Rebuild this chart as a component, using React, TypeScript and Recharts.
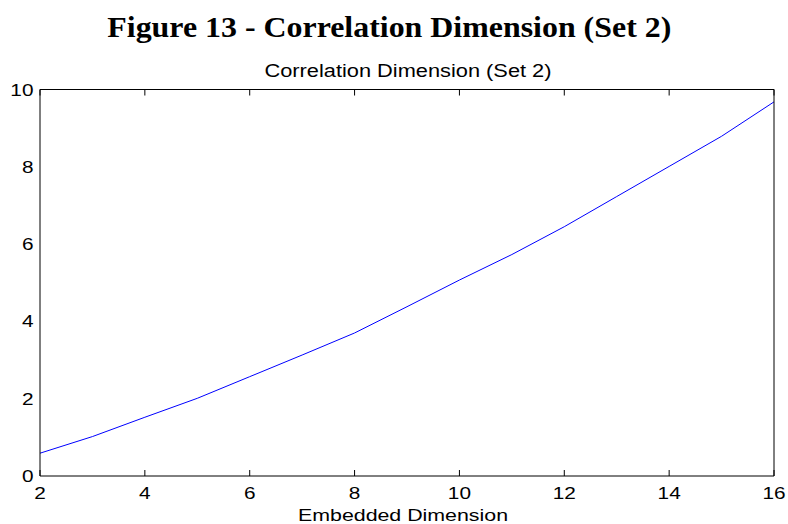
import React from "react";
import { LineChart, Line, XAxis, YAxis } from "recharts";

const embeddedDims = [2, 3, 4, 5, 6, 7, 8, 9, 10, 11, 12, 13, 14, 15, 16];
const corrDims = [0.59, 1.02, 1.52, 2.01, 2.57, 3.13, 3.7, 4.38, 5.07, 5.73, 6.45, 7.23, 8.01, 8.79, 9.68];
const xTicks = [2, 4, 6, 8, 10, 12, 14, 16];
const yTicks = [0, 2, 4, 6, 8, 10];

const figureTitle = "Figure 13 - Correlation Dimension (Set 2)";
const plotTitle = "Correlation Dimension (Set 2)";
const xLabel = "Embedded Dimension";

const data = embeddedDims.map((x, i) => ({ x, y: corrDims[i] }));

const SANS = "'Liberation Sans', Arial, Helvetica, sans-serif";

const XTick = (props: any) => {
  const { x, y, payload } = props;
  return (
    <text
      transform={`translate(${x},${y + 23}) scale(1.3,1)`}
      textAnchor="middle"
      fontSize={16}
      fontFamily={SANS}
      fill="#000"
    >
      {payload.value}
    </text>
  );
};

const YTick = (props: any) => {
  const { x, y, payload } = props;
  return (
    <text
      transform={`translate(${x - 6.5},${y + 6}) scale(1.3,1)`}
      textAnchor="end"
      fontSize={16}
      fontFamily={SANS}
      fill="#000"
    >
      {payload.value}
    </text>
  );
};

const NoTick = () => <g />;

export default function App() {
  return (
    <div style={{ position: "absolute", left: 0, top: 0, width: 788, height: 524, background: "#fff" }}>
      <svg width={788} height={524} style={{ position: "absolute", left: 0, top: 0 }}>
        <text
          x={107.3}
          y={36.7}
          fontSize={29}
          fontWeight="bold"
          fontFamily="'Liberation Serif', 'Times New Roman', serif"
          textLength={564}
          lengthAdjust="spacingAndGlyphs"
          fill="#000"
        >
          {figureTitle}
        </text>
        <text
          x={408}
          y={77.3}
          fontSize={17.5}
          fontFamily={SANS}
          textAnchor="middle"
          textLength={287}
          lengthAdjust="spacingAndGlyphs"
          fill="#000"
        >
          {plotTitle}
        </text>
        <text
          x={403}
          y={520.7}
          fontSize={16}
          fontFamily={SANS}
          textAnchor="middle"
          textLength={210}
          lengthAdjust="spacingAndGlyphs"
          fill="#000"
        >
          {xLabel}
        </text>
      </svg>
      <div style={{ position: "absolute", left: 0, top: 0 }}>
        <LineChart width={788} height={524} data={data} margin={{ top: 89.5, right: 14, bottom: 0, left: 0 }}>
          <XAxis
            dataKey="x"
            type="number"
            domain={[2, 16]}
            ticks={xTicks}
            height={48}
            tickLine={false}
            tickSize={0}
            tickMargin={0}
            axisLine={{ stroke: "#000", strokeWidth: 1 }}
            tick={<XTick />}
            interval={0}
          />
          <XAxis
            xAxisId="top"
            dataKey="x"
            type="number"
            orientation="top"
            mirror
            domain={[2, 16]}
            ticks={xTicks}
            tickSize={6}
            tickLine={{ stroke: "#000" }}
            axisLine={{ stroke: "#000", strokeWidth: 1 }}
            tick={NoTick}
            interval={0}
          />
          <XAxis
            xAxisId="bottomIn"
            dataKey="x"
            type="number"
            orientation="bottom"
            mirror
            domain={[2, 16]}
            ticks={xTicks}
            tickSize={6}
            tickLine={{ stroke: "#000" }}
            axisLine={false}
            tick={NoTick}
            interval={0}
          />
          <YAxis
            type="number"
            domain={[0, 10]}
            ticks={yTicks}
            width={40}
            tickLine={false}
            tickSize={0}
            tickMargin={0}
            axisLine={{ stroke: "#000", strokeWidth: 1 }}
            tick={<YTick />}
            interval={0}
          />
          <YAxis
            yAxisId="right"
            type="number"
            orientation="right"
            mirror
            domain={[0, 10]}
            ticks={yTicks}
            tickSize={6}
            tickLine={{ stroke: "#000" }}
            axisLine={{ stroke: "#000", strokeWidth: 1 }}
            tick={NoTick}
            interval={0}
          />
          <YAxis
            yAxisId="leftIn"
            type="number"
            orientation="left"
            mirror
            domain={[0, 10]}
            ticks={yTicks}
            tickSize={6}
            tickLine={{ stroke: "#000" }}
            axisLine={false}
            tick={NoTick}
            interval={0}
          />
          <Line
            type="linear"
            dataKey="y"
            stroke="#0000ff"
            strokeWidth={1}
            dot={false}
            isAnimationActive={false}
          />
        </LineChart>
      </div>
    </div>
  );
}
